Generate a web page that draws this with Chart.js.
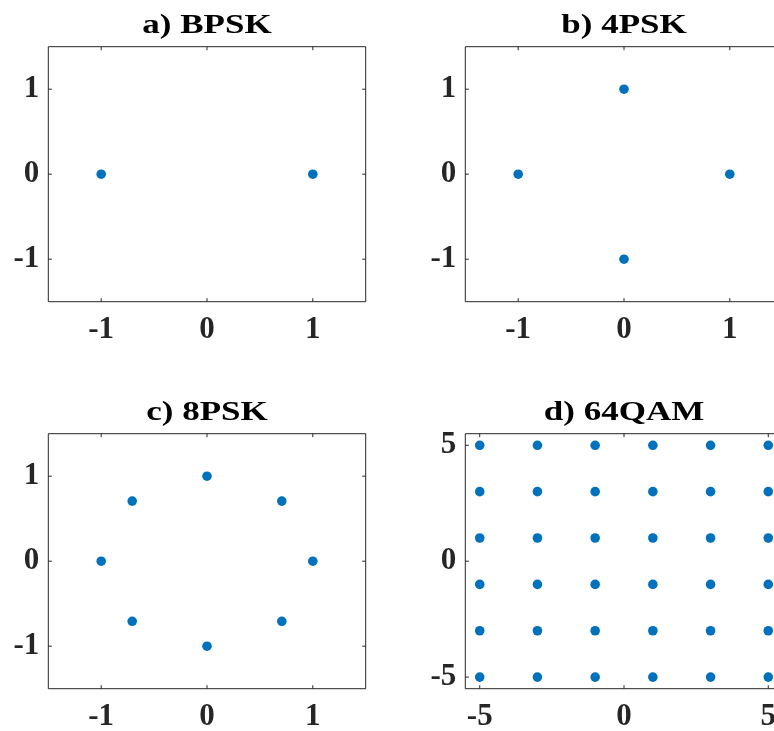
<!DOCTYPE html>
<html>
<head>
<meta charset="utf-8">
<script src="https://cdn.jsdelivr.net/npm/chart.js@4/dist/chart.umd.min.js"></script>
<style>
  html, body { margin: 0; padding: 0; background: #fff; overflow: hidden; width: 774px; height: 731px; }
  #fig { position: relative; width: 834px; height: 773px; }
  .panel { position: absolute; width: 417px; height: 386px; }
  .panel canvas { display: block; }
</style>
</head>
<body>
<div id="fig">
  <div class="panel" style="left:0px;top:0px"><canvas id="bpsk" width="417" height="386"></canvas></div>
  <div class="panel" style="left:417px;top:0px"><canvas id="qpsk" width="417" height="386"></canvas></div>
  <div class="panel" style="left:0px;top:386.6px"><canvas id="psk8" width="417" height="386"></canvas></div>
  <div class="panel" style="left:417px;top:386.6px"><canvas id="qam64" width="417" height="386"></canvas></div>
</div>
<script>
// Constellation points (in-phase / quadrature)
const bpskI = [-1, 1];
const bpskQ = [0, 0];
const qpskI = [1, 0, -1, 0];
const qpskQ = [0, 1, 0, -1];
const psk8I = [1, 0.707, 0, -0.707, -1, -0.707, 0, 0.707];
const psk8Q = [0, 0.707, 1, 0.707, 0, -0.707, -1, -0.707];
const qamLevels = [-5, -3, -1, 1, 3, 5];

// Axis ticks and limits
const pskTicks = [-1, 0, 1];
const qamTicks = [-5, 0, 5];
const pskLimit = 1.5;
const qamLimit = 5.5;

const panelTitles = ['a) BPSK', 'b) 4PSK', 'c) 8PSK', 'd) 64QAM'];

const toPoints = (xs, ys) => xs.map((v, i) => ({ x: v, y: ys[i] }));
const qamPoints = [];
qamLevels.forEach(q => qamLevels.forEach(i => qamPoints.push({ x: i, y: q })));

const SERIF = '"Liberation Serif", "Times New Roman", Times, serif';
const AXIS_COLOR = '#262626';
const DOT_COLOR = '#0072BD';

// Box around the plot area with inward tick marks on all four sides
const frameBox = {
  id: 'frameBox',
  beforeDatasetsDraw(chart) {
    const { ctx, chartArea: a, scales: { x, y } } = chart;
    const len = 3.5;
    ctx.save();
    ctx.strokeStyle = AXIS_COLOR;
    ctx.lineWidth = 1;
    ctx.beginPath();
    ctx.rect(a.left, a.top, a.right - a.left, a.bottom - a.top);
    x.ticks.forEach(t => {
      const px = x.getPixelForValue(t.value);
      ctx.moveTo(px, a.bottom); ctx.lineTo(px, a.bottom - len);
      ctx.moveTo(px, a.top); ctx.lineTo(px, a.top + len);
    });
    y.ticks.forEach(t => {
      const py = y.getPixelForValue(t.value);
      ctx.moveTo(a.left, py); ctx.lineTo(a.left + len, py);
      ctx.moveTo(a.right, py); ctx.lineTo(a.right - len, py);
    });
    ctx.stroke();
    ctx.restore();
  }
};

// Panel heading, centred over the plot area and set a little wide
const panelHeading = {
  id: 'panelHeading',
  afterDraw(chart, args, opts) {
    const { ctx, chartArea: a } = chart;
    ctx.save();
    ctx.font = 'bold ' + opts.size + 'px ' + SERIF;
    ctx.fillStyle = opts.color;
    ctx.textAlign = 'center';
    ctx.textBaseline = 'alphabetic';
    ctx.translate((a.left + a.right) / 2, opts.baseline);
    ctx.scale(opts.stretch, 1);
    ctx.fillText(opts.text, 0, 0);
    ctx.restore();
  }
};

function axis(limit, tickValues, isX) {
  return {
    type: 'linear',
    min: -limit,
    max: limit,
    afterBuildTicks: s => { s.ticks = tickValues.map(v => ({ value: v })); },
    afterFit: s => { if (isX) { s.height = 84.3; } else { s.width = 48.3; } },
    grid: { display: false, drawTicks: false },
    border: { display: false },
    ticks: {
      autoSkip: false,
      maxRotation: 0,
      padding: isX ? 10 : 9,
      color: AXIS_COLOR,
      font: { family: SERIF, weight: 'bold', size: 31, lineHeight: 1.2 },
      callback: v => String(v)
    }
  };
}

function drawPanel(id, title, points, limit, tickValues) {
  return new Chart(document.getElementById(id), {
    type: 'scatter',
    data: {
      datasets: [{
        data: points,
        pointRadius: 4.8,
        pointHoverRadius: 4.8,
        pointBackgroundColor: DOT_COLOR,
        pointBorderWidth: 0,
        showLine: false
      }]
    },
    options: {
      responsive: false,
      animation: false,
      events: [],
      layout: { padding: { left: 0, top: 46.7, right: 51.3, bottom: 0 } },
      plugins: {
        legend: { display: false },
        tooltip: { enabled: false },
        title: { display: false },
        panelHeading: { text: title, size: 28, stretch: 1.25, baseline: 32.5, color: '#000' }
      },
      scales: {
        x: axis(limit, tickValues, true),
        y: axis(limit, tickValues, false)
      }
    },
    plugins: [frameBox, panelHeading]
  });
}

drawPanel('bpsk', panelTitles[0], toPoints(bpskI, bpskQ), pskLimit, pskTicks);
drawPanel('qpsk', panelTitles[1], toPoints(qpskI, qpskQ), pskLimit, pskTicks);
drawPanel('psk8', panelTitles[2], toPoints(psk8I, psk8Q), pskLimit, pskTicks);
drawPanel('qam64', panelTitles[3], qamPoints, qamLimit, qamTicks);
</script>
</body>
</html>
